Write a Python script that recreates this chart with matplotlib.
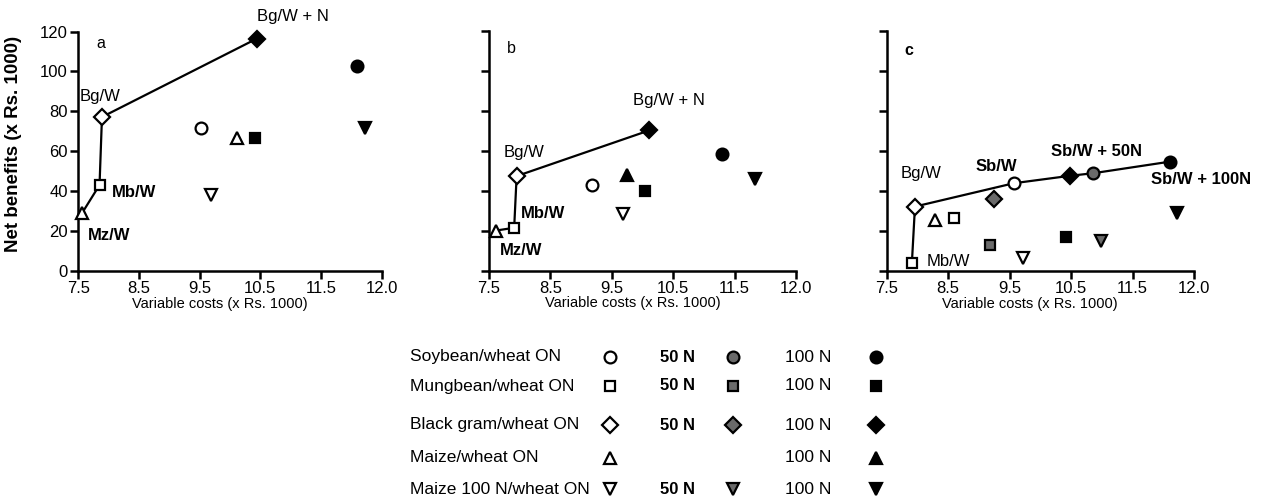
import matplotlib
matplotlib.use("Agg")
import matplotlib.pyplot as plt

plt.rcParams['font.family'] = ['Liberation Sans', 'DejaVu Sans']

# ---- data (variable costs, net benefits) ----
x_ticks = [7.5, 8.5, 9.5, 10.5, 11.5, 12.5]
x_tick_labels = ["7.5", "8.5", "9.5", "10.5", "11.5", "12.0"]
y_ticks = [0, 20, 40, 60, 80, 100, 120]

a_x = [10.44, 12.09, 7.89, 9.53, 10.12, 10.42, 12.23, 9.68, 7.85, 7.56]
a_y = [116.4, 102.5, 77.1, 71.6, 66.5, 66.5, 71.5, 38.0, 43.0, 28.8]
a_kind = ["bg100", "soy100", "bg0", "soy0", "mz0", "mb100", "mzn100", "mzn0", "mb0", "mz0"]
a_frontier = [9, 8, 2, 0]

b_x = [10.11, 11.29, 11.83, 7.95, 9.18, 9.74, 10.04, 9.69, 7.91, 7.61]
b_y = [70.2, 58.5, 46.0, 47.3, 42.6, 48.1, 39.8, 28.4, 21.4, 20.0]
b_kind = ["bg100", "soy100", "mzn100", "bg0", "soy0", "mz100", "mb100", "mzn0", "mb0", "mz0"]
b_frontier = [9, 8, 3, 0]

c_x = [7.96, 7.91, 8.29, 8.60, 9.18, 9.25, 9.57, 9.71, 10.48, 10.86, 10.42, 10.99, 12.11, 12.23]
c_y = [32.1, 4.0, 25.4, 26.3, 12.9, 36.0, 43.8, 6.2, 47.5, 48.8, 17.0, 15.0, 54.6, 28.8]
c_kind = ["bg0", "mb0", "mz0", "mb0", "mb50", "bg50", "soy0", "mzn0", "bg100", "soy50",
          "mb100", "mzn50", "soy100", "mzn100"]
c_frontier = [1, 0, 6, 8, 9, 12]

# annotations: (text, x, y, bold)
a_notes = [("Bg/W + N", 10.44, 127.5, False), ("Bg/W", 7.52, 87.4, False),
           ("Mb/W", 8.05, 39.2, True), ("Mz/W", 7.65, 17.9, True)]
b_notes = [("Bg/W + N", 9.85, 85.3, False), ("Bg/W", 7.74, 59.3, False),
           ("Mb/W", 8.02, 28.4, True), ("Mz/W", 7.68, 10.0, True)]
c_notes = [("Bg/W", 7.72, 48.7, False), ("Sb/W", 8.94, 52.4, True),
           ("Sb/W + 50N", 10.18, 59.5, True), ("Sb/W + 100N", 11.80, 45.5, True),
           ("Mb/W", 8.15, 4.5, False)]

legend_rows = ["Soybean/wheat ON", "Mungbean/wheat ON", "Black gram/wheat ON",
               "Maize/wheat ON", "Maize 100 N/wheat ON"]
legend_kinds = [["soy0", "soy50", "soy100"], ["mb0", "mb50", "mb100"],
                ["bg0", "bg50", "bg100"], ["mz0", None, "mz100"],
                ["mzn0", "mzn50", "mzn100"]]

# ---- styles ----
GRAY = "#6a6a6a"
shapes = {"soy": ("o", 8.5), "mb": ("s", 7), "bg": ("D", 8), "mz": ("^", 9), "mzn": ("v", 9)}
fills = {"0": "white", "50": GRAY, "100": "black"}


def style(kind):
    for key in ("mzn", "soy", "mb", "bg", "mz"):
        if kind.startswith(key):
            marker, size = shapes[key]
            return marker, size, fills[kind[len(key):]]


def draw_panel(ax, xs, ys, kinds, frontier, notes, letter, letter_y, letter_bold):
    ax.plot([xs[i] for i in frontier], [ys[i] for i in frontier], color="black",
            lw=1.6, zorder=2, clip_on=False)
    for x, y, k in zip(xs, ys, kinds):
        m, s, fc = style(k)
        ax.plot(x, y, marker=m, ms=s, mfc=fc, mec="black", mew=1.6,
                ls="none", zorder=3, clip_on=False)
    for txt, x, y, bold in notes:
        ax.text(x, y, txt, fontsize=12, ha="left", va="center",
                fontweight="bold" if bold else "normal", clip_on=False)
    ax.text(7.79, letter_y, letter, fontsize=11.5, ha="left", va="center",
            fontweight="bold" if letter_bold else "normal")
    ax.set_xlim(7.5, 12.5)
    ax.set_ylim(0, 120)
    ax.set_xticks(x_ticks)
    ax.set_xticklabels(x_tick_labels)
    ax.set_yticks(y_ticks)
    for side in ("top", "right"):
        ax.spines[side].set_visible(False)
    for side in ("left", "bottom"):
        ax.spines[side].set_linewidth(1.8)
    ax.tick_params(direction="out", length=6, width=1.8, labelsize=12, pad=1.5)
    ax.set_xlabel("Variable costs (x Rs. 1000)", fontsize=10.5)
    ax.xaxis.set_label_coords(0.467, -0.108)


W, H = 1270, 504
fig = plt.figure(figsize=(W / 100, H / 100), dpi=100)


def px_axes(left, right, top, bottom):
    return fig.add_axes([left / W, 1 - bottom / H, (right - left) / W, (bottom - top) / H])


ax_a = px_axes(78.3, 381.7, 31.5, 270.7)
ax_b = px_axes(489, 796, 31.0, 270.5)
ax_c = px_axes(886.7, 1194, 31.0, 270.7)

draw_panel(ax_a, a_x, a_y, a_kind, a_frontier, a_notes, "a", 114, False)
draw_panel(ax_b, b_x, b_y, b_kind, b_frontier, b_notes, "b", 111, False)
draw_panel(ax_c, c_x, c_y, c_kind, c_frontier, c_notes, "c", 110, True)

ax_a.set_ylabel("Net benefits (x Rs. 1000)", fontsize=13.5, fontweight="bold")
ax_a.yaxis.set_label_coords(-0.185, 0.53)
ax_b.set_yticklabels([])
ax_c.set_yticklabels([])

# legend table, laid out in pixel space
leg = fig.add_axes([0, 0, 1, 1])
leg.set_xlim(0, W)
leg.set_ylim(H, 0)
leg.axis("off")
row_y = [357, 386, 425, 458, 489]
sym_x = [610, 733, 876]
for ry, label, kinds in zip(row_y, legend_rows, legend_kinds):
    leg.text(410, ry, label, fontsize=12.5, ha="left", va="center")
    if kinds[1] is not None:
        leg.text(660, ry, "50 N", fontsize=12, ha="left", va="center", fontweight="bold")
    leg.text(785, ry, "100 N", fontsize=12.5, ha="left", va="center")
    for sx, k in zip(sym_x, kinds):
        if k is None:
            continue
        m, s, fc = style(k)
        leg.plot(sx, ry, marker=m, ms=s, mfc=fc, mec="black", mew=1.6, ls="none")

fig.savefig("out.png", dpi=100)
